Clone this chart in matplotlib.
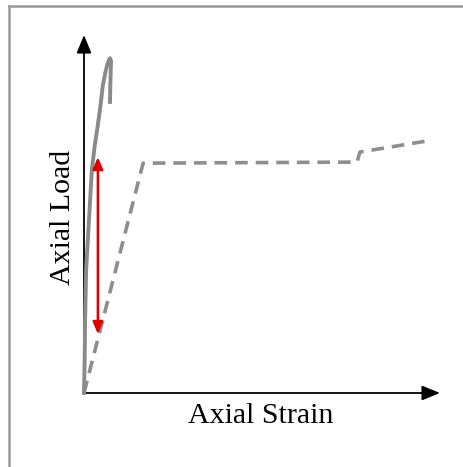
import matplotlib
matplotlib.use("Agg")
import matplotlib.pyplot as plt
from matplotlib.lines import Line2D

# Normalised strain / load values (0..1 along each axis)
bilinear_strain = [0.0, 0.166, 0.767, 0.775, 0.963]
bilinear_load = [0.0, 0.642, 0.645, 0.673, 0.704]

test_strain = [0.0, 0.002, 0.003, 0.006, 0.014, 0.022, 0.030, 0.037, 0.046,
               0.053, 0.060, 0.065, 0.070, 0.073, 0.076, 0.075, 0.074, 0.073]
test_load = [0.0, 0.10, 0.20, 0.344, 0.483, 0.623, 0.690, 0.735, 0.800,
             0.860, 0.895, 0.916, 0.930, 0.935, 0.928, 0.900, 0.860, 0.813]

range_strain = 0.039
range_load = [0.165, 0.659]

W, H = 464, 467
fig = plt.figure(figsize=(W / 100, H / 100), dpi=100)
fig.patch.set_facecolor("white")

# Grey frame along the top and left edges
fig.add_artist(Line2D([9 / W, 9 / W], [0, 1 - 6 / H], color="#9a9a9a", lw=1.8,
                      transform=fig.transFigure))
fig.add_artist(Line2D([9 / W, 1], [1 - 6 / H, 1 - 6 / H], color="#9a9a9a", lw=1.8,
                      transform=fig.transFigure))

ax = fig.add_axes([84 / W, (H - 393) / H, 356 / W, 358 / H])
ax.set_xlim(0, 1)
ax.set_ylim(0, 1)
ax.axis("off")

# Axis arrows
arrow_kw = dict(arrowstyle="-|>,head_length=1.1,head_width=0.45", color="black",
                lw=1.3, shrinkA=0, shrinkB=0)
ax.annotate("", xy=(0, 1.0), xytext=(0, 0), xycoords="axes fraction",
            arrowprops=arrow_kw)
ax.annotate("", xy=(1.0, 0), xytext=(0, 0), xycoords="axes fraction",
            arrowprops=arrow_kw)

# Bilinear idealisation (dashed)
ax.plot(bilinear_strain, bilinear_load, color="#8e8e8e", lw=2.6,
        dashes=(3.5, 2.2), clip_on=False, zorder=3)

# Measured response (solid)
ax.plot(test_strain, test_load, color="#8a8a8a", lw=2.8, clip_on=False,
        zorder=4, solid_joinstyle="round")

# Double-headed red arrow showing the load range
ax.annotate("", xy=(range_strain, range_load[1]), xytext=(range_strain, range_load[0]),
            arrowprops=dict(arrowstyle="<|-|>,head_length=0.7,head_width=0.3",
                            color="#e00000", lw=1.8, shrinkA=0, shrinkB=0),
            zorder=5)

serif = ["Liberation Serif", "DejaVu Serif"]
fig.text(261 / W, 1 - 423 / H, "Axial Strain", family=serif, fontsize=21.5,
         ha="center", va="baseline")
fig.text(70 / W, 1 - 217 / H, "Axial Load", family=serif, fontsize=21.5,
         ha="center", va="baseline", rotation=90, rotation_mode="anchor")

fig.savefig("out.png", dpi=100, facecolor="white")
